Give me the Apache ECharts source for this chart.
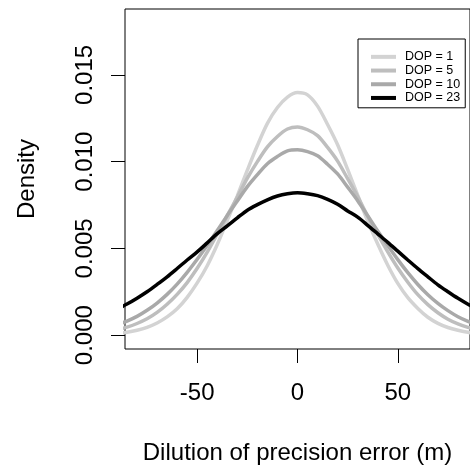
<!DOCTYPE html>
<html>
<head>
<meta charset="utf-8">
<script src="https://cdn.jsdelivr.net/npm/echarts@6/dist/echarts.min.js"></script>
<style>
html,body{margin:0;padding:0;background:#fff;}
#chart{width:470px;height:471px;}
</style>
</head>
<body>
<div id="chart"></div>
<script>
var xValues = [-90,-85,-80,-75,-70,-65,-60,-55,-50,-45,-40,-35,-30,-25,-20,-15,-10,-5,0,5,10,15,20,25,30,35,40,45,50,55,60,65,70,75,80,85,90];
var dop1 = [0.00011,0.00017,0.00028,0.00045,0.00070,0.00105,0.00152,0.00218,0.00301,0.00400,0.00522,0.00661,0.00803,0.00951,0.01093,0.01221,0.01312,0.01372,0.01398,0.01385,0.01320,0.01214,0.01097,0.00955,0.00807,0.00657,0.00525,0.00403,0.00298,0.00216,0.00154,0.00103,0.00068,0.00044,0.00028,0.00016,0.00010];
var dop5 = [0.00031,0.00046,0.00067,0.00094,0.00131,0.00178,0.00235,0.00303,0.00385,0.00478,0.00582,0.00690,0.00796,0.00905,0.01000,0.01085,0.01145,0.01188,0.01200,0.01184,0.01150,0.01082,0.01003,0.00902,0.00799,0.00686,0.00580,0.00480,0.00387,0.00305,0.00233,0.00176,0.00129,0.00092,0.00065,0.00045,0.00030];
var dop10 = [0.00059,0.00081,0.00108,0.00143,0.00185,0.00235,0.00294,0.00362,0.00437,0.00518,0.00603,0.00690,0.00773,0.00856,0.00925,0.00988,0.01030,0.01062,0.01068,0.01058,0.01034,0.00985,0.00929,0.00853,0.00775,0.00688,0.00600,0.00516,0.00435,0.00360,0.00292,0.00233,0.00183,0.00141,0.00106,0.00079,0.00057];
var dop23 = [0.00149,0.00179,0.00213,0.00250,0.00292,0.00336,0.00384,0.00433,0.00480,0.00532,0.00585,0.00630,0.00676,0.00720,0.00752,0.00780,0.00802,0.00815,0.00821,0.00815,0.00804,0.00783,0.00755,0.00716,0.00680,0.00633,0.00584,0.00535,0.00484,0.00433,0.00383,0.00336,0.00290,0.00250,0.00212,0.00178,0.00148];
var seriesNames = ['DOP = 1','DOP = 5','DOP = 10','DOP = 23'];
var seriesColors = ['#D3D3D3','#BEBEBE','#A9A9A9','#000000'];
var xTicks = [-50,0,50];
var yTicks = [0,0.005,0.010,0.015];
var yTickLabels = ['0.000','0.005','0.010','0.015'];

var allData = [dop1, dop5, dop10, dop23];
function pairs(arr){ return xValues.map(function(x,i){ return [x, arr[i]]; }); }

var FONT = 'Liberation Sans, Arial, sans-serif';
var chart = echarts.init(document.getElementById('chart'), null, {renderer:'canvas'});
chart.setOption({
  animation:false,
  backgroundColor:'#fff',
  grid:{left:125, top:9, right:-5, bottom:122, show:true, borderColor:'#000', borderWidth:1, backgroundColor:'transparent'},
  legend:{
    left:358, top:39, orient:'vertical',
    data:seriesNames,
    icon:'rect', itemWidth:25, itemHeight:4, itemGap:0,
    padding:[11,5,3,13],
    borderColor:'#000', borderWidth:1, borderRadius:0, backgroundColor:'#fff',
    textStyle:{fontFamily:FONT, fontSize:12.5, color:'#000', lineHeight:13.7, padding:[0,0,0,4]}
  },
  xAxis:{
    type:'value', min:-86, max:86,
    axisLine:{show:false, onZero:false},
    splitLine:{show:false},
    axisTick:{show:true, customValues:xTicks, length:14, inside:false, lineStyle:{color:'#000', width:1}},
    axisLabel:{customValues:xTicks, margin:32, fontFamily:FONT, fontSize:24, color:'#000'},
    name:'Dilution of precision error (m)', nameLocation:'middle', nameGap:92,
    nameTextStyle:{fontFamily:FONT, fontSize:24, color:'#000'}
  },
  yAxis:{
    type:'value', min:-0.0008, max:0.0188,
    axisLine:{show:false, onZero:false},
    splitLine:{show:false},
    axisTick:{show:true, customValues:yTicks, length:14, lineStyle:{color:'#000', width:1}},
    axisLabel:{customValues:yTicks, rotate:90, margin:28, fontFamily:FONT, fontSize:24, color:'#000',
      formatter:function(v){ var i = yTicks.findIndex(function(t){return Math.abs(t-v)<1e-9;}); return i>=0? yTickLabels[i] : v.toFixed(3); }},
    name:'Density', nameLocation:'middle', nameGap:86, nameRotate:90,
    nameTextStyle:{fontFamily:FONT, fontSize:24, color:'#000'}
  },
  series: allData.map(function(arr, i){
    return {
      name:seriesNames[i], type:'line', data:pairs(arr), smooth:0.3,
      showSymbol:false, symbol:'none', clip:true,
      lineStyle:{color:seriesColors[i], width:3.5},
      itemStyle:{color:seriesColors[i]},
      z:2+i
    };
  })
});
</script>
</body>
</html>
